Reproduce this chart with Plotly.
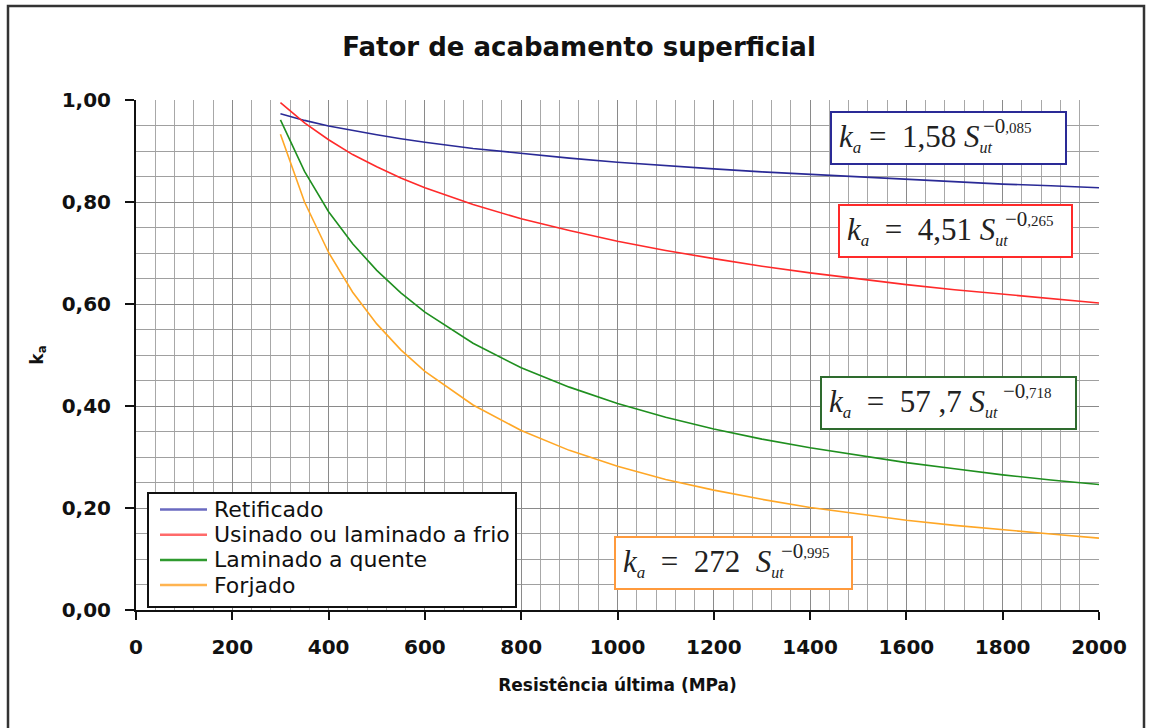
import plotly.graph_objects as go

# Surface finish factor k_a versus ultimate tensile strength (MPa)
sut = [300, 350, 400, 450, 500, 550, 600, 700, 800, 900, 1000, 1100, 1200,
       1300, 1400, 1500, 1600, 1700, 1800, 1900, 2000]

retificado = [0.973, 0.960, 0.949, 0.940, 0.932, 0.924, 0.917, 0.905, 0.895,
              0.886, 0.878, 0.871, 0.865, 0.859, 0.854, 0.849, 0.844, 0.840,
              0.835, 0.832, 0.828]
usinado = [0.995, 0.955, 0.922, 0.893, 0.869, 0.847, 0.828, 0.795, 0.767,
           0.744, 0.723, 0.705, 0.689, 0.674, 0.661, 0.649, 0.638, 0.628,
           0.619, 0.610, 0.602]
laminado_quente = [0.961, 0.860, 0.781, 0.718, 0.666, 0.622, 0.584, 0.523,
                   0.475, 0.437, 0.405, 0.378, 0.355, 0.335, 0.318, 0.303,
                   0.289, 0.277, 0.265, 0.255, 0.246]
forjado = [0.933, 0.800, 0.701, 0.623, 0.561, 0.510, 0.468, 0.402, 0.352,
           0.313, 0.282, 0.256, 0.235, 0.217, 0.201, 0.188, 0.176, 0.166,
           0.157, 0.149, 0.141]

names = ["Retificado", "Usinado ou laminado a frio", "Laminado a quente",
         "Forjado"]
colors = ["#2a2a96", "#ff2a2a", "#1f8f1f", "#ffa726"]
legend_colors = ["#6a6ac0", "#ff6a6a", "#2f9a2f", "#ffb450"]
values = [retificado, usinado, laminado_quente, forjado]

# Equation labels: coefficient text, exponent parts, border colour
coefs = ["&nbsp;=&nbsp;&nbsp;1,58", "&nbsp;&nbsp;=&nbsp;&nbsp;4,51",
         "&nbsp;&nbsp;=&nbsp;&nbsp;57&nbsp;,7", "&nbsp;&nbsp;=&nbsp;&nbsp;272&nbsp;"]
exp_head = ["−0", "−0", "−0", "−0"]
exp_tail = [",085", ",265", ",718", ",995"]
box_colors = ["#2a2a96", "#ff2a2a", "#2e6b2e", "#ff9a3c"]

# Layout geometry in pixels (plot area spans x 136..1099, y 100..610)
PL, PR, PT, PB = 136, 1099, 100, 610


def px(xp):
    return (xp - PL) / (PR - PL)


def py(yp):
    return (PB - yp) / (PB - PT)


box_px = [(830, 1067, 111, 165), (838, 1073, 204, 258),
          (820, 1077, 376, 430), (614, 853, 536, 590)]
exp_px = [(981, 126), (1003, 219), (1001, 391), (779, 551)]

fig = go.Figure()
for name, ys, color in zip(names, values, colors):
    fig.add_trace(go.Scatter(x=sut, y=ys, name=name, mode="lines",
                             showlegend=False,
                             line=dict(color=color, width=1.6)))

serif = "Liberation Serif"
for coef, eh, et, bc, (x0, x1, y0, y1), (ex, ey) in zip(
        coefs, exp_head, exp_tail, box_colors, box_px, exp_px):
    bw, pad = 2, 7
    txt = (f"<i>k</i><sub><i><span style='font-size:17px'>a</span></i></sub>"
           f"{coef}&nbsp;<i>S</i><sub><i><span style='font-size:16px'>ut</span></i></sub>")
    fig.add_annotation(x=px(x0), y=py((y0 + y1) / 2), xref="paper",
                       yref="paper", xanchor="left", yanchor="middle",
                       text=txt, showarrow=False, align="left",
                       width=(x1 - x0) - 2 * pad - 2 * bw,
                       height=(y1 - y0) - 2 * pad - 2 * bw,
                       bgcolor="white", bordercolor=bc, borderwidth=bw,
                       borderpad=pad,
                       font=dict(family=serif, size=31, color="#222222"))
    fig.add_annotation(x=px(ex), y=py(ey), xref="paper", yref="paper",
                       xanchor="left", yanchor="middle", showarrow=False,
                       text=f"{eh}<span style='font-size:15px'>{et}</span>",
                       font=dict(family=serif, size=21, color="#222222"))

# Legend box with line samples
fig.add_shape(type="rect", xref="paper", yref="paper",
              x0=px(148), x1=px(516), y0=py(607), y1=py(493),
              fillcolor="white", line=dict(color="#111111", width=2))
for i, (name, color) in enumerate(zip(names, legend_colors)):
    yy = py(509.5 + 25.2 * i)
    fig.add_shape(type="line", xref="paper", yref="paper",
                  x0=px(160), x1=px(207), y0=yy, y1=yy,
                  line=dict(color=color, width=2.5))
    fig.add_annotation(x=px(212), y=yy, xref="paper", yref="paper",
                       xanchor="left", yanchor="middle", showarrow=False,
                       text=name,
                       font=dict(family="DejaVu Sans", size=22,
                                 color="#111111"))

# Outer frame around the whole chart
fig.add_shape(type="rect", xref="paper", yref="paper",
              x0=px(8), x1=px(1144), y0=py(800), y1=py(6),
              line=dict(color="#333333", width=2.5), layer="below")

bold_font = dict(family="DejaVu Sans", color="#111111", weight="bold")

fig.update_layout(
    width=1149, height=728,
    margin=dict(l=PL, r=1149 - PR, t=PT, b=728 - PB),
    paper_bgcolor="white", plot_bgcolor="white",
    separators=",.",
    showlegend=False,
    title=dict(text="Fator de acabamento superficial",
               x=px(579), xref="paper", xanchor="center",
               y=1 - 47 / 728, yanchor="middle",
               font=dict(bold_font, size=26)),
    xaxis=dict(range=[0, 2000], dtick=200, tick0=0,
               showgrid=True, gridcolor="#8a8a8a", gridwidth=1,
               minor=dict(dtick=40, showgrid=True, gridcolor="#a8a8a8",
                          gridwidth=1),
               showline=True, linecolor="#111111", linewidth=2,
               ticks="outside", ticklen=8, tickcolor="#111111", tickwidth=2,
               ticklabelstandoff=10,
               tickfont=dict(bold_font, size=20),
               title=dict(text="Resistência última (MPa)", standoff=21,
                          font=dict(bold_font, size=17)),
               zeroline=False),
    yaxis=dict(range=[0, 1], dtick=0.2, tick0=0, tickformat=".2f",
               showgrid=True, gridcolor="#8a8a8a", gridwidth=1,
               minor=dict(dtick=0.05, showgrid=True, gridcolor="#a0a0a0",
                          gridwidth=1),
               showline=True, linecolor="#111111", linewidth=2,
               ticks="outside", ticklen=9, tickcolor="#111111", tickwidth=2,
               ticklabelstandoff=10,
               tickfont=dict(bold_font, size=20),
               title=dict(text="k<sub>a</sub>", standoff=14,
                          font=dict(bold_font, size=17)),
               zeroline=False),
)

fig.write_html("out.html")
